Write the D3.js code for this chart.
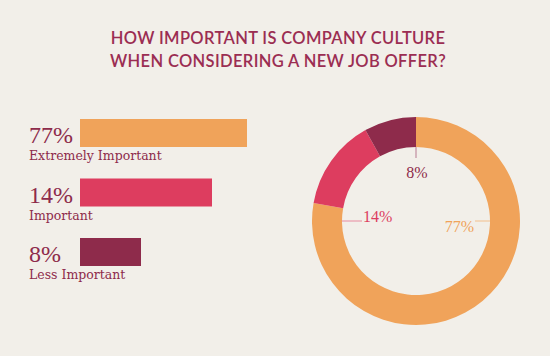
<!DOCTYPE html>
<html><head><meta charset="utf-8">
<script src="https://cdn.jsdelivr.net/npm/d3@7"></script>
<style>body{margin:0;background:#f2efe9} svg{display:block}</style>
</head><body><svg id="c" width="550" height="356"></svg>
<script>
// ---- data ----
const categories = ["Extremely Important", "Important", "Less Important"];
const values = [77, 14, 8];
const valueLabels = ["77%", "14%", "8%"];
const titleLines = ["HOW IMPORTANT IS COMPANY CULTURE", "WHEN CONSIDERING A NEW JOB OFFER?"];

// ---- styles ----
const colors = ["#f0a35a", "#dd3d5f", "#8e2b4b"];
const lineColors = ["#f3bf8c", "#e88a9f", "#b77b91"];
const textColor = "#8e2b4b";
const titleColor = "#9b2d52";
const serif = "'Liberation Serif', 'DejaVu Serif', serif";
const slab = "'DejaVu Serif', serif";

const svg = d3.select("#c");
svg.append("rect").attr("width", 550).attr("height", 356).attr("fill", "#f2efe9");

// title
svg.append("g").selectAll("text").data(titleLines).join("text")
  .attr("x", 278).attr("y", (d, i) => 43.5 + i * 23.5)
  .attr("text-anchor", "middle")
  .attr("font-family", "Lato, 'Open Sans', sans-serif")
  .attr("font-size", 16.5).attr("font-weight", 600)
  .attr("letter-spacing", 0.35)
  .attr("fill", titleColor)
  .text(d => d);

// ---- bars ----
const y = d3.scalePoint().domain(categories).range([119, 238]);
// bar lengths in the original are not proportional; piecewise scale
const x = d3.scaleLinear().domain([0, 8, 14, 77]).range([0, 61, 132, 167]);
const barH = 28, barX = 80;

const rows = svg.append("g").selectAll("g").data(categories).join("g")
  .attr("transform", d => `translate(0,${y(d)})`);
rows.append("rect")
  .attr("x", barX).attr("y", 0)
  .attr("width", (d, i) => x(values[i])).attr("height", barH)
  .attr("fill", (d, i) => colors[i]);
rows.append("text")
  .attr("x", 29).attr("y", 24)
  .attr("font-family", serif).attr("font-size", 24)
  .attr("fill", textColor)
  .text((d, i) => valueLabels[i]);
rows.append("text")
  .attr("x", 29).attr("y", 41)
  .attr("font-family", slab).attr("font-size", 12.5)
  .attr("fill", textColor)
  .text(d => d);

// ---- donut ----
const cx = 416, cy = 221, rOut = 104, rIn = 74;
const pie = d3.pie().sort(null).value(d => d).startAngle(0).endAngle(2 * Math.PI);
const arc = d3.arc().innerRadius(rIn).outerRadius(rOut);
const g = svg.append("g").attr("transform", `translate(${cx},${cy})`);
g.selectAll("path").data(pie(values)).join("path")
  .attr("d", arc).attr("fill", (d, i) => colors[i]);

// annotations: angle (deg from top, clockwise), leader length, label offset
const annot = [
  {angle: 90, len: 15, dx: -1, dy: 11, anchor: "end"},
  {angle: 270, len: 20, dx: 1, dy: 1, anchor: "start"},
  {angle: 0, len: 11, dx: 1, dy: 20, anchor: "middle"}
];
annot.forEach((a, i) => {
  const t = a.angle * Math.PI / 180;
  const px = r => Math.sin(t) * r, py = r => -Math.cos(t) * r;
  g.append("line")
    .attr("x1", px(rIn)).attr("y1", py(rIn))
    .attr("x2", px(rIn - a.len)).attr("y2", py(rIn - a.len))
    .attr("stroke", lineColors[i]).attr("stroke-width", 1);
  g.append("text")
    .attr("x", px(rIn - a.len) + a.dx).attr("y", py(rIn - a.len) + a.dy)
    .attr("text-anchor", a.anchor)
    .attr("font-family", serif).attr("font-size", 16)
    .attr("fill", colors[i])
    .text(valueLabels[i]);
});
</script></body></html>
